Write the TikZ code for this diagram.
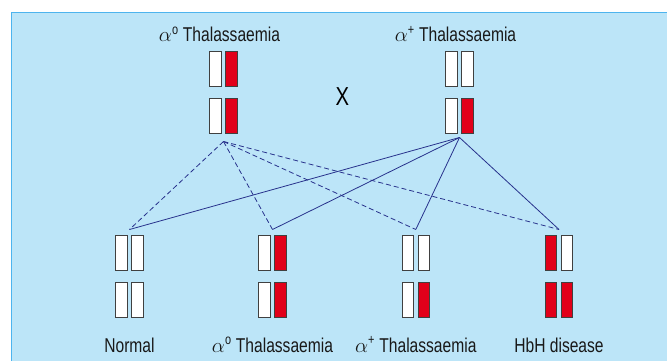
\documentclass[tikz,border=0pt]{standalone}
\usepackage{fontspec}
\setmainfont{Liberation Sans}[FakeStretch=0.78]
\usetikzlibrary{positioning, calc}
\definecolor{panelcolor}{RGB}{188, 229, 248}
\definecolor{framecolor}{RGB}{77, 180, 238}
\definecolor{deletedcolor}{RGB}{225, 0, 26}
\definecolor{linkcolor}{RGB}{40, 50, 140}

\begin{document}
\begin{tikzpicture}[
    x=1pt, y=-1pt,
    allele/.style={draw=black!75, line width=0.8pt, minimum width=11.5pt, minimum height=35pt, inner sep=0pt, outer sep=0pt},
    title/.style={font=\fontsize{20}{20}\selectfont, text=black!90, inner sep=0pt, text height=14.5pt, text depth=0pt},
    cross/.style={font=\fontsize{26}{26}\selectfont, inner sep=0pt},
    inherit/.style={linkcolor, line width=0.8pt},
    inheritdash/.style={inherit, dash pattern=on 5pt off 3pt}
]
    \useasboundingbox (0,0) rectangle (667,361);
    \draw[fill=panelcolor, draw=framecolor, line width=1.6pt] (11.5,12.5) rectangle (690,380);

    % genotypes: name/x/y/top left/top right/bottom left/bottom right
    \foreach \g/\cx/\cy/\ul/\ur/\ll/\lr in {
        pa/223.5/92/white/deletedcolor/white/deletedcolor,
        pb/459.5/92/white/white/white/deletedcolor,
        normal/129.5/276.5/white/white/white/white,
        alphao/272.5/276.5/white/deletedcolor/white/deletedcolor,
        alphap/415.8/276.5/white/white/white/deletedcolor,
        hbh/559/276.5/deletedcolor/white/deletedcolor/deletedcolor}{
        \coordinate (\g) at (\cx,\cy);
        \node[allele, fill=\ul, above left=6pt and 2.25pt of \g] (\g-ul) {};
        \node[allele, fill=\ur, above right=6pt and 2.25pt of \g] (\g-ur) {};
        \node[allele, fill=\ll, below left=6pt and 2.25pt of \g] (\g-ll) {};
        \node[allele, fill=\lr, below right=6pt and 2.25pt of \g] (\g-lr) {};
    }

    \node[title, above=50pt of pa, xshift=-4pt] (pa-name) {$\alpha$\textsuperscript{o} Thalassaemia};
    \node[title, above=50pt of pb, xshift=-4pt] (pb-name) {$\alpha$\textsuperscript{+} Thalassaemia};
    \node[cross, xshift=1pt, yshift=-4.5pt] (cross) at ($(pa)!0.5!(pb)$) {X};

    \coordinate[below=49.5pt of pa] (pa-out);
    \coordinate[below=45.5pt of pb] (pb-out);

    % offspring, names and links to both parents
    \foreach \g/\txt in {normal/Normal, alphao/{$\alpha$\textsuperscript{o} Thalassaemia},
        alphap/{$\alpha$\textsuperscript{+} Thalassaemia}, hbh/HbH disease}{
        \node[title, below=61pt of \g] (\g-name) {\txt};
        \coordinate[above=47pt of \g] (\g-in);
        \draw[inheritdash] (pa-out) -- (\g-in);
        \draw[inherit] (pb-out) -- (\g-in);
    }
\end{tikzpicture}
\end{document}
